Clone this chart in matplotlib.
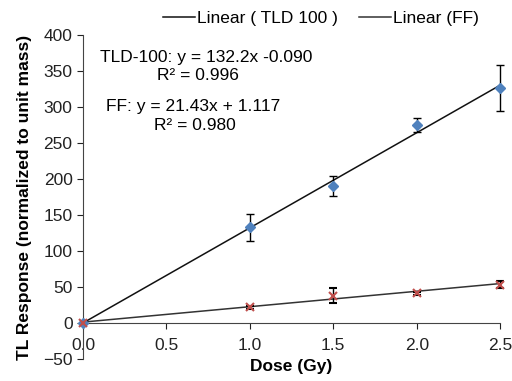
import numpy as np
import matplotlib.pyplot as plt

plt.rcParams['font.family'] = ['Liberation Sans', 'DejaVu Sans']

# dose points
dose = [0.0, 1.0, 1.5, 2.0, 2.5]
# TLD-100 response and error
tld = [0, 133, 190, 275, 326]
tld_err = [0, 19, 14, 10, 32]
# FF response and error
ff = [0, 22, 38, 41, 53]
ff_err = [0, 2, 10, 2, 5]

# linear fit coefficients as printed
tld_fit = (132.2, -0.090)
ff_fit = (21.43, 1.117)

fig = plt.figure(figsize=(5.12, 3.81), dpi=100)
ax = fig.add_axes([0.162, 0.058, 0.815, 0.85])

xx = np.array([0.0, 2.5])
l1, = ax.plot(xx, tld_fit[0]*xx + tld_fit[1], color='#111111', lw=1.1)
l2, = ax.plot(xx, ff_fit[0]*xx + ff_fit[1], color='#333333', lw=1.1)

e1 = ax.errorbar(dose, tld, yerr=tld_err, fmt='D', color='#4F81BD', ms=5,
                 ecolor='black', elinewidth=1, capsize=3, zorder=3)
e2 = ax.errorbar(dose, ff, yerr=ff_err, fmt='x', color='#C0504D', ms=6, mew=1.5,
                 ecolor='black', elinewidth=1, capsize=3, zorder=3)
for e in (e1, e2):
    for a in e.get_children():
        a.set_clip_on(False)

ax.set_xlim(0, 2.5)
ax.set_ylim(-50, 400)
ax.set_xticks([0, 0.5, 1.0, 1.5, 2.0, 2.5])
ax.set_xticklabels(['0.0', '0.5', '1.0', '1.5', '2.0', '2.5'])
ax.set_yticks(range(-50, 401, 50))
ax.tick_params(labelsize=12.5, colors='#222222', length=4)
ax.tick_params(axis='x', pad=7)

ax.spines['top'].set_visible(False)
ax.spines['right'].set_visible(False)
ax.spines['bottom'].set_position(('data', 0))
for s in ['left', 'bottom']:
    ax.spines[s].set_color('#444444')

ax.set_xlabel('Dose (Gy)', fontsize=12.5, fontweight='bold', labelpad=4)
ax.set_ylabel('TL Response (normalized to unit mass)', fontsize=12.5, fontweight='bold', labelpad=8)

ax.text(0.74, 363, 'TLD-100: y = 132.2x -0.090', fontsize=12.5, ha='center')
ax.text(0.69, 337, 'R\u00b2 = 0.996', fontsize=12.5, ha='center')
ax.text(0.66, 294, 'FF: y = 21.43x + 1.117', fontsize=12.5, ha='center')
ax.text(0.67, 268, 'R\u00b2 = 0.980', fontsize=12.5, ha='center')

ax.legend([l1, l2], ['Linear ( TLD 100 )', 'Linear (FF)'], ncol=2, frameon=False,
          loc='lower center', bbox_to_anchor=(0.57, 0.98), fontsize=12.5,
          handlelength=1.85, handletextpad=0.1, columnspacing=1.2)

fig.savefig('out.png', dpi=100)
